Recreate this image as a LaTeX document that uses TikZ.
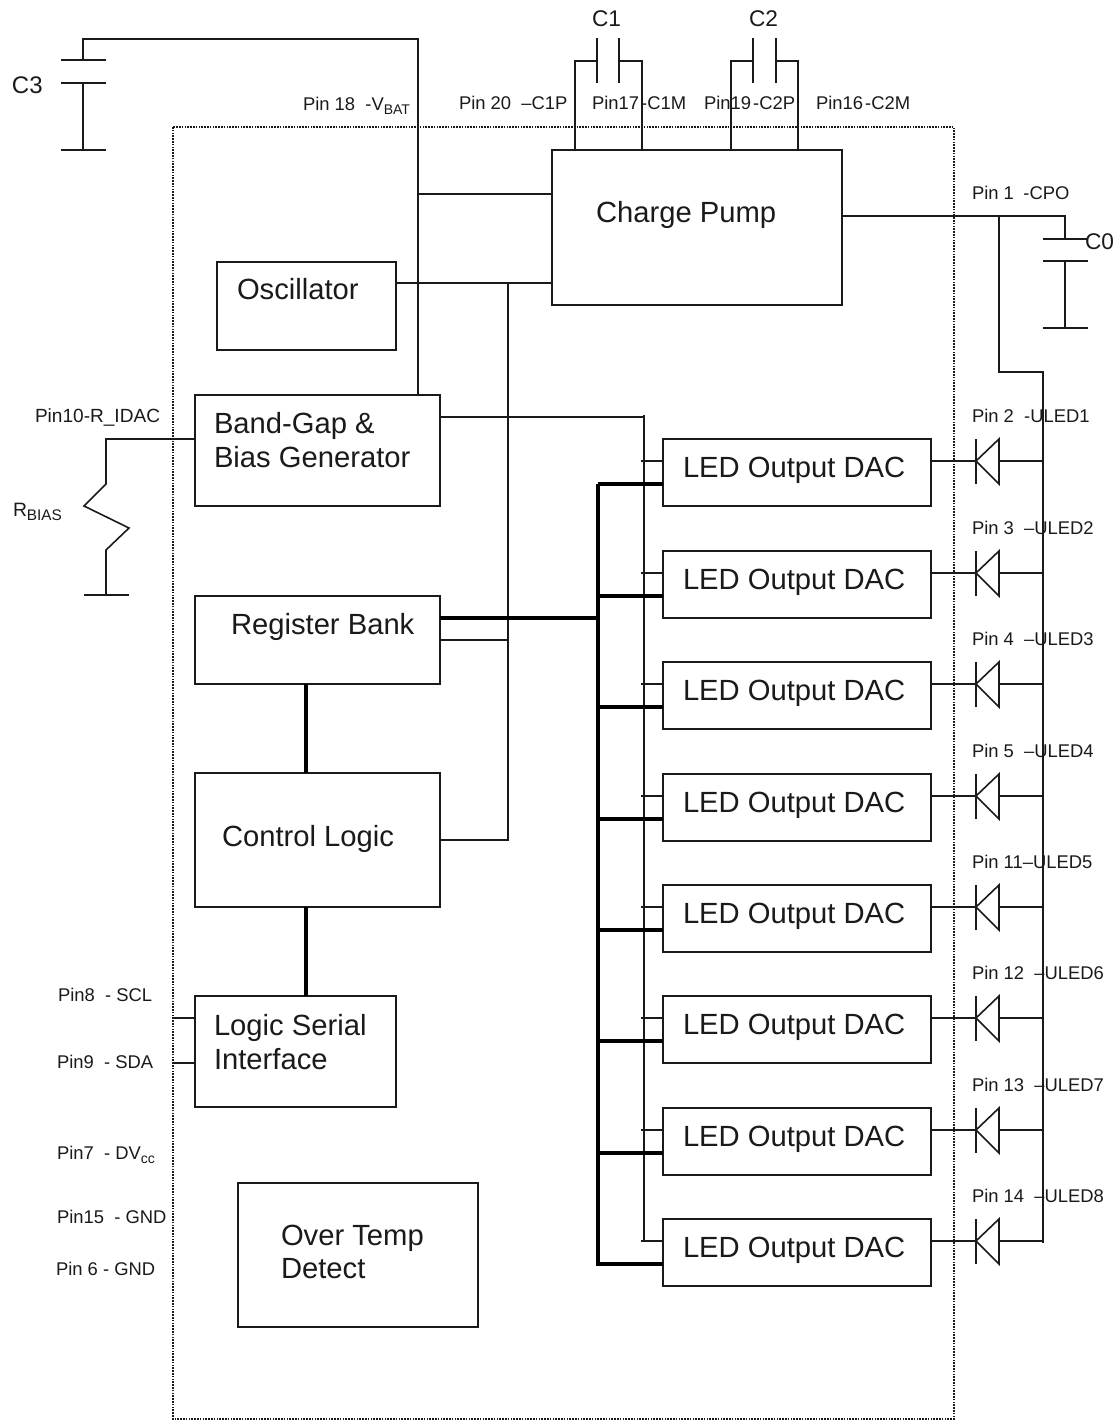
\documentclass[tikz,border=0pt]{standalone}
\usepackage{fontspec}
\setmainfont{Liberation Sans}
\definecolor{ink}{HTML}{1A1A1A}
\newcommand{\boxn}[5]{\node[blockbox,minimum width={(#4-#2)*0.75pt},minimum height={(#5-#3)*0.75pt}] (#1) at ({(#2+#4)/2},{(#3+#5)/2}) {};}
\tikzset{
  blockbox/.style={draw=ink,line width=1.2pt,inner sep=0,outer sep=0,rectangle},
  wire/.style={draw=ink,line width=1.2pt},
  thinwire/.style={draw=ink,line width=1.1pt},
  heavy/.style={draw=black,line width=3.6pt},
  chip/.style={draw=ink,line width=1pt,dotted,line cap=butt,dash pattern=on 1.2pt off 0.9pt},
  big/.style={anchor=base west,inner sep=0,outer sep=0,text=ink,font=\fontsize{21.9}{25.6}\selectfont,align=left},
  mid/.style={anchor=base west,inner sep=0,outer sep=0,text=ink,font=\fontsize{17}{20}\selectfont},
  pin/.style={anchor=base west,inner sep=0,outer sep=0,text=ink,font=\fontsize{13.8}{16}\selectfont},
}
\newcommand{\nsp}{\hspace{0.12em}}
\newcommand{\bigsub}[1]{\raisebox{-0.22em}{\fontsize{10.5}{12}\selectfont #1}}
\begin{document}
\begin{tikzpicture}[x=0.75pt,y=-0.75pt]
\path[use as bounding box,fill=white] (0,0) rectangle (1117,1421);
% chip outline
\draw[chip] (173,127) rectangle (954,1419);
% blocks
\boxn{cp}{552}{150}{842}{305}
\boxn{osc}{217}{262}{396}{350}
\boxn{bg}{195}{395}{440}{506}
\boxn{reg}{195}{596}{440}{684}
\boxn{ctl}{195}{773}{440}{907}
\boxn{lsi}{195}{996}{396}{1107}
\boxn{otd}{238}{1183}{478}{1327}
% block texts
\node[big] (tcp) at (596,222) {Charge Pump};
\node[big] (tosc) at (237,299) {Oscillator};
\node[big] (tbg) at (214,433) {Band-Gap \&};
\node[big] (tbg2) at (214,467) {Bias Generator};
\node[big] (treg) at (231,634) {Register Bank};
\node[big] (tctl) at (222,846) {Control Logic};
\node[big] (tlsi) at (214,1035) {Logic Serial};
\node[big] (tlsi2) at (214,1069) {Interface};
\node[big] (totd) at (281,1245) {Over Temp};
\node[big] (totd2) at (281,1278) {Detect};
% junction coordinates
\coordinate (vbat) at (418,39);
\coordinate (c3top) at (83,39);
\coordinate (ctlbus) at (508,283);
\coordinate (refbus) at (644,417);
\coordinate (reftop) at (644,415);
\coordinate (refend) at (644,1241);
\coordinate (bustop) at (598,484);
\coordinate (busbot) at (598,1266);
\coordinate (cpo) at (999,216);
\coordinate (cpoc) at (1065,216);
\coordinate (rail) at (1043,372);
\coordinate (railend) at (1043,1243);
% VBAT and C3
\draw[wire] (c3top |- 0,60) -- (c3top) -- (vbat) -- (vbat |- bg.north);
\draw[wire] (vbat |- 0,194) -- (cp.west |- 0,194);
\draw[wire] (61,60) -- (106,60);
\draw[wire] (61,83) -- (106,83);
\draw[wire] (83,83) -- (83,150);
\draw[wire] (61,150) -- (106,150);
% C1, C2
\draw[wire] (597,38) -- (597,83);
\draw[wire] (619,38) -- (619,83);
\draw[wire] (cp.north -| 575,0) -- (575,61) -- (597,61);
\draw[wire] (cp.north -| 642,0) -- (642,61) -- (619,61);
\draw[wire] (753,38) -- (753,83);
\draw[wire] (776,38) -- (776,83);
\draw[wire] (cp.north -| 731,0) -- (731,61) -- (753,61);
\draw[wire] (cp.north -| 798,0) -- (798,61) -- (776,61);
% oscillator / control bus
\draw[wire] (osc.east |- 0,283) -- (cp.west |- 0,283);
\draw[wire] (ctlbus) -- (508,840) -- (ctl.east |- 0,840);
\draw[thinwire] (reg.east |- 0,640) -- (508,640);
% CPO and C0
\draw[wire] (cp.east |- cpo) -- (cpoc) -- (1065,239);
\draw[wire] (1043,239) -- (1088,239);
\draw[wire] (1043,261) -- (1088,261);
\draw[wire] (1065,261) -- (1065,328);
\draw[wire] (1043,328) -- (1088,328);
\draw[wire] (cpo) -- (999,372) -- (rail) -- (railend);
% R_BIAS
\draw[wire] (bg.west |- 0,439) -- (106,439) -- (106,484) -- (84,506) -- (129,528) -- (106,550) -- (106,595);
\draw[wire] (84,595) -- (129,595);
% reference bus
\draw[thinwire] (bg.east |- refbus) -- (refbus);
\draw[thinwire] (reftop) -- (refend);
% digital bus
\draw[heavy] (bustop) -- (busbot);
\draw[heavy] (reg.east |- 0,618) -- (598,618);
\draw[heavy] (306,684) -- (306,773);
\draw[heavy] (306,907) -- (306,996);
% serial pins
\draw[wire] (173,1018) -- (lsi.west |- 0,1018);
\draw[wire] (173,1063) -- (lsi.west |- 0,1063);
% DAC rows
\foreach \i/\t/\lab in {1/439/{Pin 2\ \ -ULED1},2/551/{Pin 3\ \ –ULED2},3/662/{Pin 4\ \ –ULED3},4/774/{Pin 5\ \ –ULED4},5/885/{Pin 11–ULED5},6/996/{Pin 12\ \ –ULED6},7/1108/{Pin 13\ \ –ULED7},8/1219/{Pin 14\ \ –ULED8}}{
  \boxn{dac\i}{663}{\t}{931}{\t+67}
  \node[big] (tdac\i) at (683,\t+38) {LED Output DAC};
  \coordinate (tip\i) at (976,\t+22);
  \coordinate (dbase\i) at (999,\t+22);
  \draw[thinwire] (641,\t+22) -- (dac\i.west |- tip\i);
  \draw[heavy] (bustop |- 0,\t+45) -- (dac\i.west |- 0,\t+45);
  \draw[wire] (dac\i.east |- tip\i) -- (tip\i);
  \draw[wire] (976,\t) -- (976,\t+45);
  \draw[wire] (tip\i) -- (999,\t) -- (999,\t+45) -- cycle;
  \draw[wire] (dbase\i) -- (rail |- dbase\i);
  \node[pin] (pl\i) at (972,\t-17) {\lab};
}
% pin labels
\node[pin] (p18) at (303,110) {Pin 18\ \ -V\bigsub{BAT}};
\node[pin] (p20) at (459,109) {Pin 20\ \ –C1P};
\node[pin] (p17) at (592,109) {Pin17\nsp-C1M};
\node[pin] (p19) at (704,109) {Pin19\nsp-C2P};
\node[pin] (p16) at (816,109) {Pin16\nsp-C2M};
\node[pin] (p1) at (972,199) {Pin 1\nsp\nsp\ -CPO};
\node[pin,font=\fontsize{14.3}{16}\selectfont] (p10) at (35,422) {Pin10-R\_IDAC};
\node[pin] (p8) at (58,1001) {Pin8\ \ - SCL};
\node[pin] (p9) at (57,1068) {Pin9\ \ - SDA};
\node[pin] (p7) at (57,1159) {Pin7\ \ - DV\bigsub{cc}};
\node[pin] (p15) at (57,1223) {Pin15\ \ - GND};
\node[pin] (p6) at (56,1275) {Pin 6 - GND};
\node[pin,font=\fontsize{14.5}{16}\selectfont] (rb) at (13,516) {R\raisebox{-0.22em}{\fontsize{11.5}{12}\selectfont BIAS}};
\node[mid,font=\fontsize{18}{20}\selectfont] (c3) at (12,93) {C3};
\node[mid] (c1) at (592,26) {C1};
\node[mid] (c2) at (749,26) {C2};
\node[mid] (c0) at (1085,249) {C0};
\end{tikzpicture}
\end{document}
